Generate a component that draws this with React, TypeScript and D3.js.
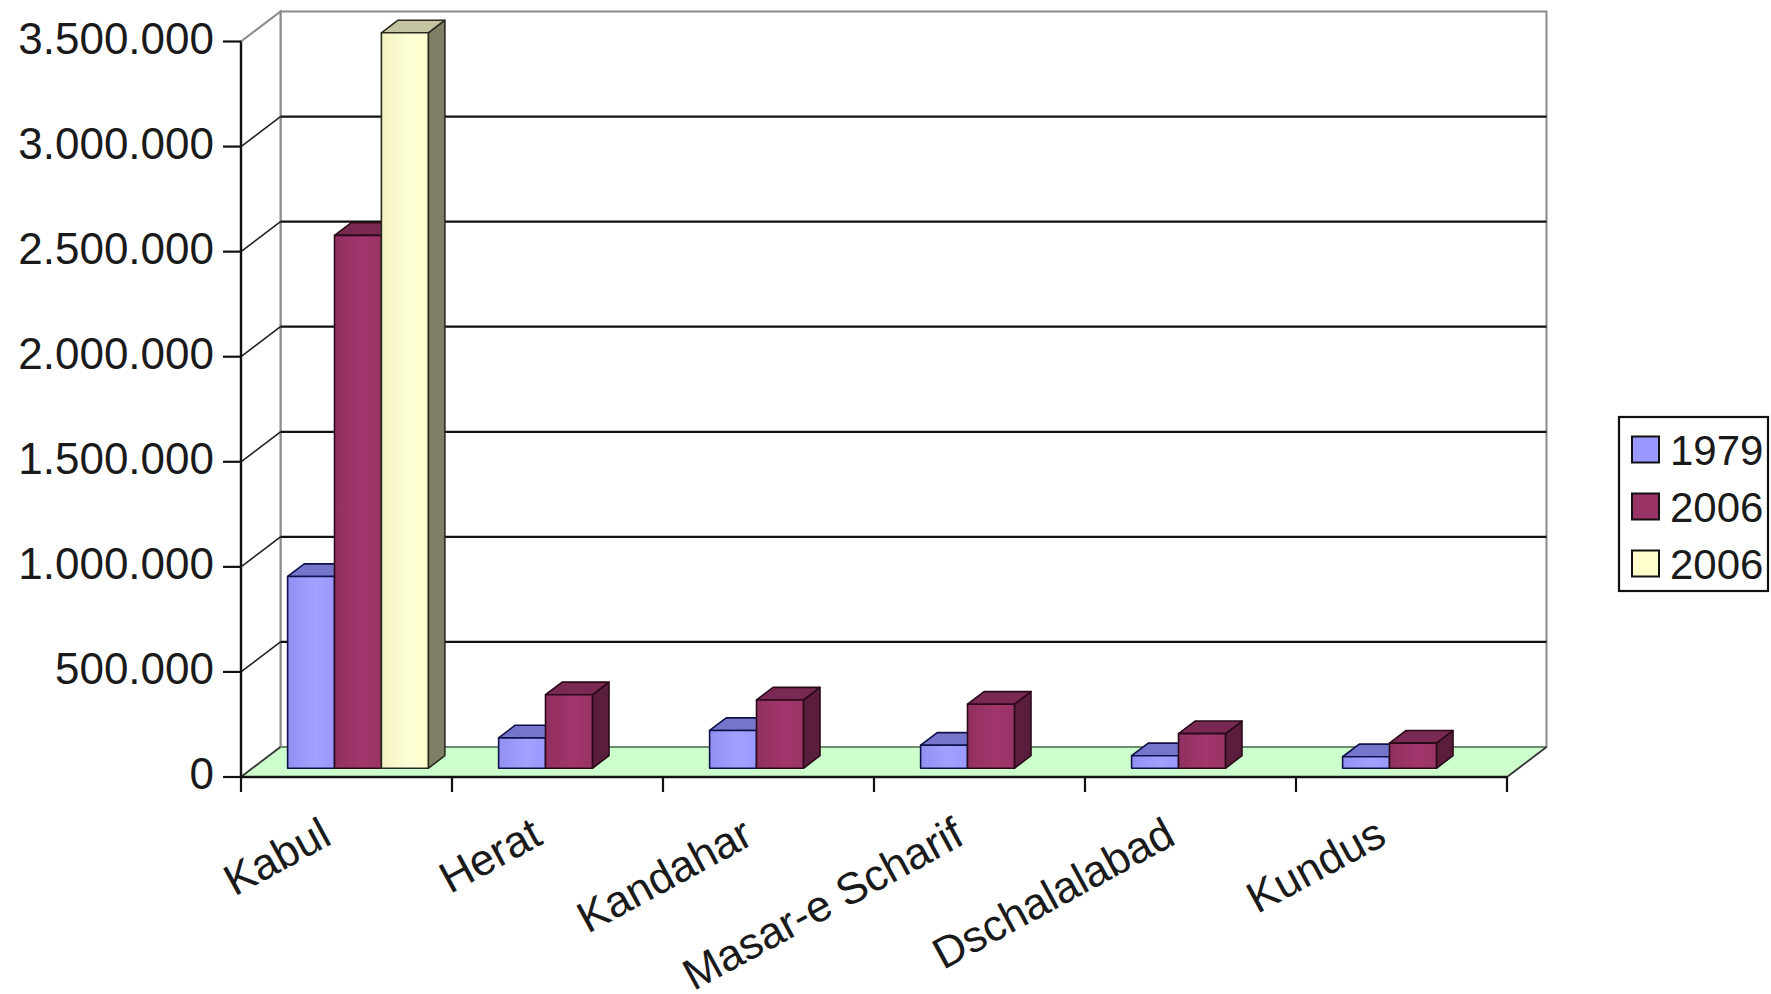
import React from "react";
import * as d3 from "d3";

const categories = ["Kabul", "Herat", "Kandahar", "Masar-e Scharif", "Dschalalabad", "Kundus"];
const seriesNames = ["1979", "2006", "2006"];
const values1979 = [913000, 145000, 180000, 110000, 60000, 55000];
const values2006a = [2536000, 350000, 325000, 305000, 165000, 120000];
const values2006b: (number | null)[] = [3500000, null, null, null, null, null];
const yTicks = [0, 500000, 1000000, 1500000, 2000000, 2500000, 3000000, 3500000];

const seriesValues = [values1979, values2006a, values2006b];
const seriesColors = [
  { front: "#9999ff", top: "#7575cc", side: "#5a5a9e", stroke: "#10104a" },
  { front: "#993366", top: "#7a2952", side: "#5a1d3c", stroke: "#2a0a18" },
  { front: "#ffffcc", top: "#c4c4a2", side: "#7f7f66", stroke: "#2a2a20" },
];

const W = 1771;
const H = 994;
const FONT = "'Liberation Sans', Arial, Helvetica, sans-serif";

export default function App() {
  const x0 = 241;
  const x1 = 1507;
  const y0 = 777;
  const yTop = 41.5;
  const DX = 39.5;
  const DY = -30;
  const fFront = 0.29;
  const fDepth = 0.42;

  const y = d3.scaleLinear().domain([0, 3500000]).range([y0, yTop]);
  const xCat = d3.scaleBand<string>().domain(categories).range([x0, x1]).paddingInner(0).paddingOuter(0);
  const cw = xCat.bandwidth();
  const barW = cw / (seriesNames.length + 1.5);
  const xSer = d3
    .scaleBand<number>()
    .domain(d3.range(seriesNames.length))
    .range([0.75 * barW, cw - 0.75 * barW])
    .padding(0);

  const locale = d3.formatLocale({ decimal: ",", thousands: ".", grouping: [3], currency: ["", "€"] });
  const fmt = locale.format(",");

  const P = (px: number, py: number, f: number) => [px + f * DX, py + f * DY];
  const poly = (pts: number[][]) => pts.map((p) => p.join(",")).join(" ");

  const floor = [P(x0, y0, 0), P(x1, y0, 0), P(x1, y0, 1), P(x0, y0, 1)];
  const backWall = [P(x0, y0, 1), P(x1, y0, 1), P(x1, yTop, 1), P(x0, yTop, 1)];
  const sideWall = [P(x0, y0, 0), P(x0, y0, 1), P(x0, yTop, 1), P(x0, yTop, 0)];

  const bars: React.ReactElement[] = [];
  categories.forEach((c, ci) => {
    seriesValues.forEach((vals, si) => {
      const v = vals[ci];
      if (v == null) return;
      const col = seriesColors[si];
      const xl = (xCat(c) as number) + (xSer(si) as number);
      const xr = xl + barW;
      const yb = y(0);
      const yt = y(v);
      const fb = fFront + fDepth;
      const front = [P(xl, yb, fFront), P(xr, yb, fFront), P(xr, yt, fFront), P(xl, yt, fFront)];
      const top = [P(xl, yt, fFront), P(xr, yt, fFront), P(xr, yt, fb), P(xl, yt, fb)];
      const side = [P(xr, yb, fFront), P(xr, yb, fb), P(xr, yt, fb), P(xr, yt, fFront)];
      bars.push(
        <g key={`b-${ci}-${si}`} stroke={col.stroke} strokeWidth={1.6} strokeLinejoin="round">
          <polygon points={poly(side)} fill={col.side} />
          <polygon points={poly(top)} fill={col.top} />
          <polygon points={poly(front)} fill={`url(#grad${si})`} />
        </g>
      );
    });
  });

  const catTicks = [...categories.map((c) => xCat(c) as number), x1];

  return (
    <svg width={W} height={H} style={{ position: "absolute", left: 0, top: 0, background: "#fff" }} fontFamily={FONT}>
      <defs>
        {seriesColors.map((col, i) => (
          <linearGradient id={`grad${i}`} key={i} x1="0" x2="1" y1="0" y2="0">
            <stop offset="0" stopColor={d3.color(col.front)!.darker(0.15).toString()} />
            <stop offset="0.6" stopColor={d3.color(col.front)!.brighter(0.15).toString()} />
            <stop offset="1" stopColor={col.front} />
          </linearGradient>
        ))}
      </defs>
      <rect x={0} y={0} width={W} height={H} fill="#fff" />

      <polygon points={poly(backWall)} fill="#fff" stroke="#8a8a8a" strokeWidth={2} />
      <polygon points={poly(sideWall)} fill="#fff" stroke="#8a8a8a" strokeWidth={2} />
      <polygon points={poly(floor)} fill="#ccffcc" stroke="none" />

      {yTicks.slice(1, -1).map((t) => {
        const a = P(x0, y(t), 0);
        const b = P(x0, y(t), 1);
        const c = P(x1, y(t), 1);
        return (
          <g key={`g-${t}`}>
            <line x1={a[0]} y1={a[1]} x2={b[0]} y2={b[1]} stroke="#222" strokeWidth={1.6} />
            <line x1={b[0]} y1={b[1]} x2={c[0]} y2={c[1]} stroke="#111" strokeWidth={2.2} />
          </g>
        );
      })}
      <line x1={floor[3][0]} y1={floor[3][1]} x2={floor[2][0]} y2={floor[2][1]} stroke="#6f8a6f" strokeWidth={2} />
      <line x1={floor[0][0]} y1={floor[0][1]} x2={floor[3][0]} y2={floor[3][1]} stroke="#333" strokeWidth={1.6} />
      <line x1={floor[1][0]} y1={floor[1][1]} x2={floor[2][0]} y2={floor[2][1]} stroke="#333" strokeWidth={1.8} />

      {bars}

      <line x1={x0} y1={y0} x2={x1} y2={y0} stroke="#111" strokeWidth={2.4} />
      <line x1={x0} y1={yTop} x2={x0} y2={y0} stroke="#111" strokeWidth={2.4} />
      {yTicks.map((t) => (
        <g key={`yt-${t}`}>
          <line x1={x0 - 18} y1={y(t)} x2={x0} y2={y(t)} stroke="#111" strokeWidth={2.2} />
          <text x={214} y={y(t) + 12} fontSize={44} textAnchor="end" fill="#1a1a1a">
            {fmt(t)}
          </text>
        </g>
      ))}
      {catTicks.map((tx, i) => (
        <line key={`xt-${i}`} x1={tx} y1={y0} x2={tx} y2={y0 + 15} stroke="#111" strokeWidth={2.2} />
      ))}
      {categories.map((c) => {
        const cx = (xCat(c) as number) + cw / 2 - 13;
        const cy = 843;
        return (
          <text key={`cl-${c}`} x={cx} y={cy} fontSize={44} textAnchor="end" fill="#1a1a1a" transform={`rotate(-28.5 ${cx} ${cy})`}>
            {c}
          </text>
        );
      })}

      <rect x={1619} y={417} width={149} height={174} fill="#fff" stroke="#111" strokeWidth={2.2} />
      {seriesNames.map((s, i) => {
        const ry = 449.5 + i * 57;
        return (
          <g key={`lg-${i}`}>
            <rect x={1632} y={ry - 13} width={27} height={26} fill={seriesColors[i].front} stroke="#111" strokeWidth={2} />
            <text x={1670} y={ry + 15} fontSize={42} fill="#1a1a1a">
              {s}
            </text>
          </g>
        );
      })}
    </svg>
  );
}
